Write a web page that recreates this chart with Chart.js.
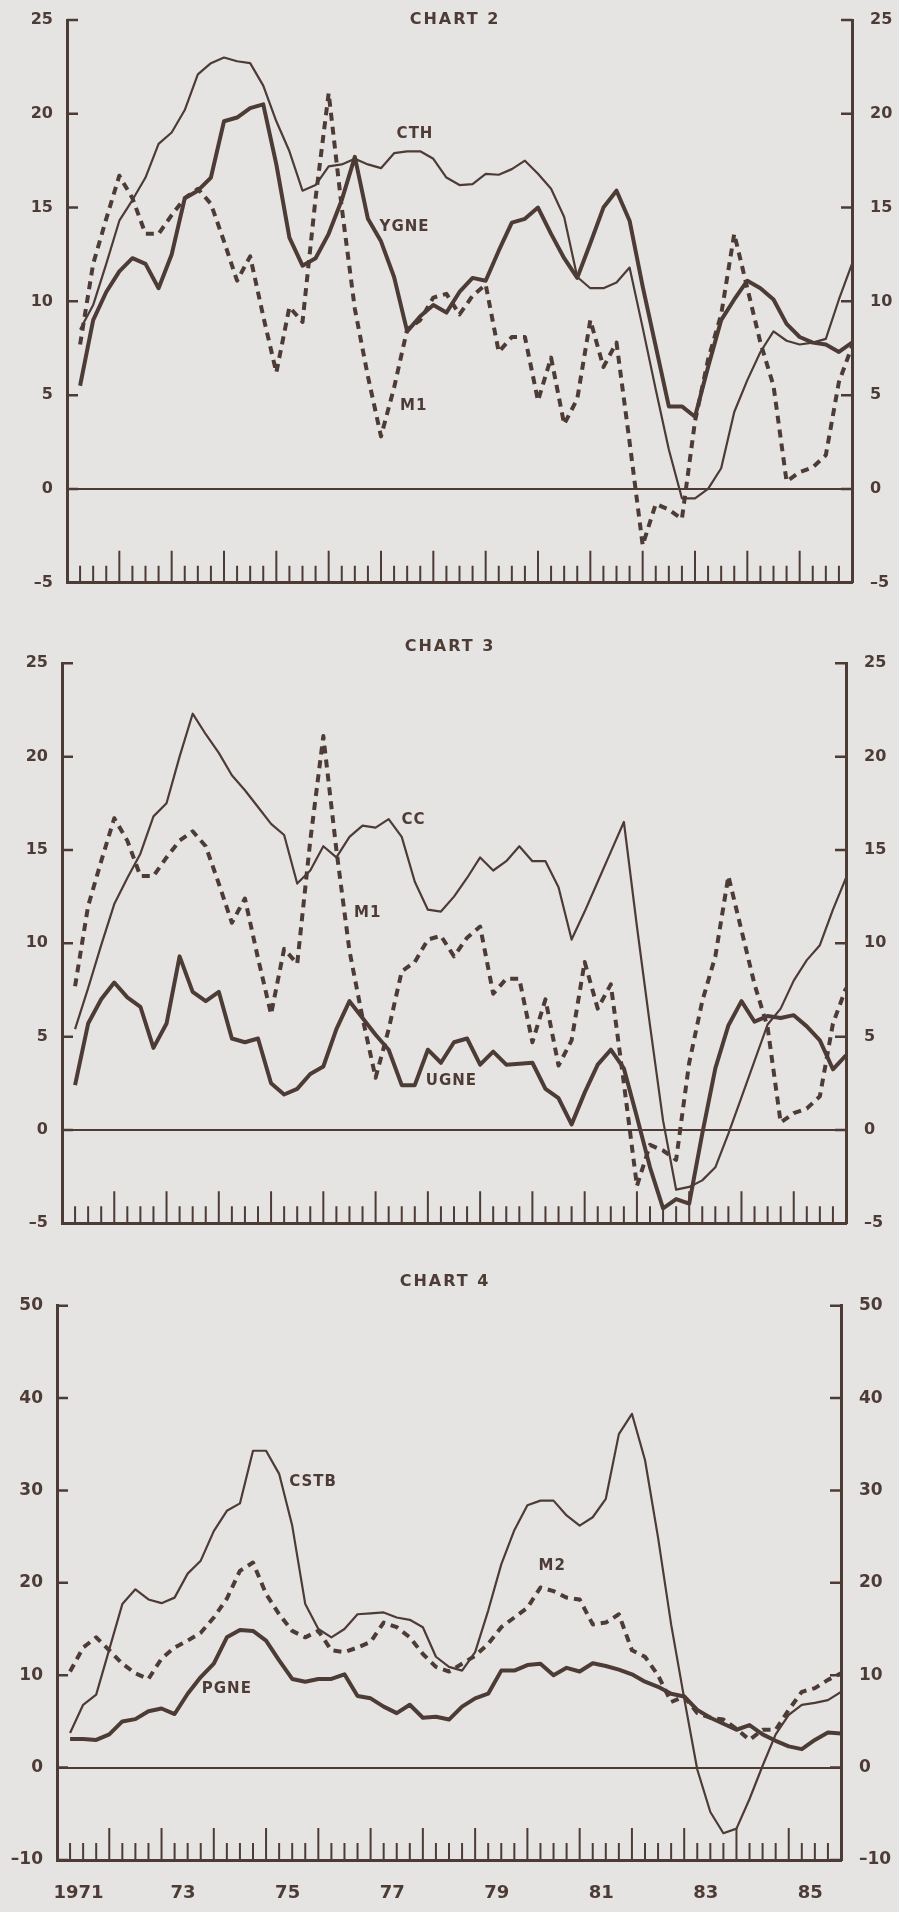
<!DOCTYPE html>
<html>
<head>
<meta charset="utf-8">
<script src="https://cdn.jsdelivr.net/npm/chart.js@4.4.1/dist/chart.umd.min.js"></script>
<style>
  html, body { margin: 0; padding: 0; background: #e6e4e2; }
  body { width: 899px; height: 1912px; position: relative; overflow: hidden; }
  .panel { position: absolute; left: 0; width: 899px; }
  canvas { display: block; }
</style>
</head>
<body>
<div class="panel" style="top:0px"><canvas id="chart2" width="899" height="620"></canvas></div>
<div class="panel" style="top:620px"><canvas id="chart3" width="899" height="620"></canvas></div>
<div class="panel" style="top:1240px"><canvas id="chart4" width="899" height="672"></canvas></div>
<script>
// quarterly growth rates, 1971Q1 .. 1985Q4 (60 quarters)
const M1 = [7.7, 12.0, 14.4, 16.7, 15.5, 13.6, 13.6, 14.6, 15.5, 16.0,
  15.2, 13.2, 11.1, 12.4, 9.2, 6.2, 9.7, 8.9, 15.5, 21.1,
  15.0, 9.6, 6.0, 2.8, 5.4, 8.5, 9.0, 10.2, 10.4, 9.3,
  10.3, 10.9, 7.3, 8.1, 8.1, 4.7, 7.0, 3.45, 4.8, 9.0,
  6.5, 7.8, 2.5, -3.0, -0.8, -1.1, -1.6, 3.6, 6.9, 9.3,
  13.6, 10.7, 7.8, 5.5, 0.4, 0.9, 1.15, 1.8, 5.7, 7.6];
const CTH = [8.5, 9.8, 12.0, 14.3, 15.4, 16.6, 18.4, 19.0, 20.2, 22.1,
  22.7, 23.0, 22.8, 22.7, 21.5, 19.6, 18.0, 15.9, 16.2, 17.2,
  17.3, 17.6, 17.3, 17.1, 17.9, 18.0, 18.0, 17.6, 16.6, 16.2,
  16.25, 16.8, 16.75, 17.05, 17.5, 16.8, 16.0, 14.5, 11.3, 10.7,
  10.7, 11.0, 11.8, 8.6, 5.3, 2.1, -0.5, -0.5, 0.0, 1.1,
  4.1, 5.8, 7.3, 8.4, 7.9, 7.7, 7.8, 8.0, 10.1, 12.0];
const YGNE = [5.5, 9.0, 10.5, 11.6, 12.3, 12.0, 10.7, 12.5, 15.5, 15.9,
  16.6, 19.6, 19.8, 20.3, 20.5, 17.3, 13.4, 11.9, 12.3, 13.6,
  15.4, 17.7, 14.4, 13.2, 11.3, 8.4, 9.2, 9.8, 9.4, 10.5,
  11.25, 11.1, 12.7, 14.2, 14.4, 15.0, 13.6, 12.3, 11.25, 13.1,
  15.0, 15.9, 14.3, 10.8, 7.6, 4.4, 4.4, 3.85, 6.5, 9.0,
  10.1, 11.1, 10.7, 10.1, 8.8, 8.1, 7.8, 7.7, 7.3, 7.8];
const CC = [5.4, 7.6, 9.9, 12.1, 13.5, 14.8, 16.8, 17.5, 20.0, 22.3,
  21.2, 20.2, 19.0, 18.2, 17.3, 16.4, 15.8, 13.2, 13.9, 15.2,
  14.6, 15.7, 16.3, 16.2, 16.65, 15.7, 13.3, 11.8, 11.7, 12.5,
  13.5, 14.6, 13.9, 14.4, 15.2, 14.4, 14.4, 13.0, 10.2, 11.7,
  13.3, 14.9, 16.5, 10.9, 5.6, 0.5, -3.2, -3.05, -2.7, -2.0,
  -0.2, 1.75, 3.7, 5.65, 6.5, 8.0, 9.1, 9.9, 11.8, 13.5];
const UGNE = [2.4, 5.7, 7.0, 7.9, 7.1, 6.6, 4.4, 5.7, 9.3, 7.4,
  6.9, 7.4, 4.9, 4.7, 4.9, 2.5, 1.9, 2.2, 3.0, 3.4,
  5.4, 6.9, 6.0, 5.1, 4.3, 2.4, 2.4, 4.3, 3.6, 4.7,
  4.9, 3.5, 4.2, 3.5, 3.55, 3.6, 2.2, 1.7, 0.3, 2.0,
  3.5, 4.3, 3.3, 0.7, -2.0, -4.2, -3.7, -3.95, -0.2, 3.3,
  5.6, 6.9, 5.8, 6.1, 6.0, 6.15, 5.55, 4.8, 3.25, 4.0];
const CSTB = [3.75, 6.8, 7.9, 12.8, 17.7, 19.3, 18.2, 17.8, 18.4, 21.0,
  22.4, 25.6, 27.8, 28.6, 34.3, 34.3, 31.8, 26.2, 17.7, 15.0,
  14.1, 15.0, 16.6, 16.7, 16.8, 16.25, 16.0, 15.2, 12.0, 10.9,
  10.5, 12.5, 17.0, 22.0, 25.7, 28.4, 28.9, 28.9, 27.3, 26.2,
  27.1, 29.1, 36.1, 38.3, 33.3, 24.9, 15.5, 7.5, -0.2, -4.8,
  -7.1, -6.6, -3.4, 0.2, 3.6, 5.7, 6.8, 7.0, 7.3, 8.2];
const M2 = [10.4, 13.0, 14.1, 12.7, 11.25, 10.2, 9.6, 11.8, 13.0, 13.75,
  14.6, 16.25, 18.3, 21.3, 22.2, 18.8, 16.6, 14.8, 14.1, 14.8,
  12.7, 12.5, 13.0, 13.6, 15.7, 15.2, 14.1, 12.3, 10.9, 10.4,
  11.25, 12.1, 13.4, 15.2, 16.25, 17.3, 19.5, 19.1, 18.4, 18.2,
  15.5, 15.7, 16.6, 12.7, 12.0, 10.0, 7.1, 7.7, 5.9, 5.4,
  5.2, 4.2, 3.0, 4.1, 4.1, 6.25, 8.2, 8.6, 9.5, 10.2];
const PGNE = [3.1, 3.1, 3.0, 3.6, 5.0, 5.25, 6.1, 6.4, 5.8, 8.0,
  9.8, 11.25, 14.1, 14.9, 14.8, 13.75, 11.6, 9.6, 9.3, 9.6,
  9.6, 10.1, 7.75, 7.5, 6.6, 5.9, 6.8, 5.4, 5.5, 5.2,
  6.6, 7.5, 8.0, 10.5, 10.5, 11.1, 11.25, 10.0, 10.8, 10.4,
  11.3, 11.0, 10.6, 10.1, 9.3, 8.75, 8.0, 7.7, 6.25, 5.4,
  4.75, 4.1, 4.6, 3.6, 2.9, 2.3, 2.0, 3.0, 3.8, 3.7];

const xYearLabels = ['1971', '73', '75', '77', '79', '81', '83', '85'];
const yRangeSmall = [-5, 25];
const yRangeLarge = [-10, 50];

const INK = '#4d3b36';
const FONT = '"DejaVu Sans", sans-serif';
const QUARTERS = 60;

function pts(arr) {
  return arr.map((v, k) => ({ x: k + 1, y: v }));
}

// '73' -> middle of 1973 on the quarter axis
function yearCenter(label) {
  const yr = label.length === 4 ? +label : 1900 + +label;
  return (yr - 1971) * 4 + 2 - 0.35;
}

const marks = {
  id: 'marks',
  beforeDatasetsDraw(chart, args, o) {
    const { ctx, chartArea: a, scales } = chart;
    ctx.save();
    ctx.strokeStyle = INK;
    ctx.lineWidth = 2.5;
    ctx.beginPath();
    scales.y.ticks.forEach(t => {
      const py = scales.y.getPixelForValue(t.value);
      ctx.moveTo(a.left, py); ctx.lineTo(a.left + 11, py);
      ctx.moveTo(a.right, py); ctx.lineTo(a.right - 11, py);
    });
    ctx.stroke();
    ctx.lineWidth = 2;
    ctx.beginPath();
    for (let q = 1; q < QUARTERS; q++) {
      const px = scales.x.getPixelForValue(q);
      ctx.moveTo(px, a.bottom);
      ctx.lineTo(px, a.bottom - (q % 4 === 0 ? o.longTick : o.shortTick));
    }
    ctx.stroke();
    ctx.restore();
  },
  afterDatasetsDraw(chart, args, o) {
    const { ctx, scales } = chart;
    ctx.save();
    ctx.fillStyle = INK;
    ctx.textAlign = 'center';
    ctx.textBaseline = 'middle';
    ctx.font = 'bold 16px ' + FONT;
    ctx.letterSpacing = '2px';
    ctx.fillText(o.title, o.titleX, o.titleY);
    ctx.letterSpacing = '1px';
    ctx.font = 'bold 15px ' + FONT;
    o.labels.forEach(l => {
      ctx.fillText(l.text, scales.x.getPixelForValue(l.q), scales.y.getPixelForValue(l.v));
    });
    ctx.restore();
  }
};

function noPad(s) {
  s.paddingTop = 0; s.paddingBottom = 0;
  s.paddingLeft = 0; s.paddingRight = 0;
}

function makeChart(id, cfg) {
  const canvas = document.getElementById(id);
  const H = canvas.height;
  const tickFont = { family: FONT, weight: 'bold', size: cfg.tickSize };
  const yBase = {
    type: 'linear',
    min: cfg.yRange[0],
    max: cfg.yRange[1],
    border: { display: true, color: INK, width: 3 },
    ticks: {
      stepSize: cfg.step, color: INK, font: tickFont,
      callback: v => (v < 0 ? '\u2013' + Math.abs(v) : String(v))
    }
  };
  return new Chart(canvas, {
    type: 'line',
    data: {
      datasets: cfg.series.map(s => ({
        label: s.name,
        data: pts(s.values),
        borderColor: INK,
        borderWidth: s.width,
        borderDash: s.dash || [],
        borderJoinStyle: 'round',
        pointRadius: 0,
        tension: 0,
        fill: false
      }))
    },
    options: {
      responsive: false,
      animation: false,
      layout: { padding: { top: cfg.plotTop, bottom: H - cfg.plotBottom - cfg.xAxisH, left: 0, right: 0 } },
      plugins: {
        legend: { display: false },
        tooltip: { enabled: false },
        marks: {
          title: cfg.title, titleX: cfg.titleX, titleY: cfg.titleY,
          labels: cfg.labels, shortTick: 17, longTick: 32
        }
      },
      scales: {
        x: {
          type: 'linear',
          min: 0,
          max: QUARTERS,
          grid: { display: false },
          border: { display: true, color: INK, width: 3 },
          afterFit: s => { s.height = cfg.xAxisH; noPad(s); },
          afterBuildTicks: s => { s.ticks = xYearLabels.map(l => ({ value: yearCenter(l) })); },
          ticks: {
            display: cfg.xAxisH > 0,
            autoSkip: false,
            maxRotation: 0,
            padding: 15,
            color: INK,
            font: { family: FONT, weight: 'bold', size: 18 },
            callback: (v, i) => xYearLabels[i]
          }
        },
        y: Object.assign({}, yBase, {
          position: 'left',
          afterFit: s => { s.width = cfg.left; noPad(s); },
          grid: {
            drawTicks: false,
            lineWidth: 2,
            color: c => (c.tick && c.tick.value === 0 ? INK : 'rgba(0,0,0,0)')
          },
          ticks: Object.assign({}, yBase.ticks, { padding: 14 })
        }),
        y2: Object.assign({}, yBase, {
          position: 'right',
          afterFit: s => { s.width = 899 - cfg.right; noPad(s); },
          grid: { display: false, drawTicks: false },
          ticks: Object.assign({}, yBase.ticks, { padding: 18 })
        })
      }
    },
    plugins: [marks]
  });
}

const thin = 2.2, thick = 4, dashed = [8, 6];

makeChart('chart2', {
  title: 'CHART 2', titleX: 455, titleY: 20,
  left: 67, right: 852, plotTop: 20, plotBottom: 582.7, xAxisH: 0,
  yRange: yRangeSmall, step: 5, tickSize: 16,
  series: [
    { name: 'CTH', values: CTH, width: thin },
    { name: 'YGNE', values: YGNE, width: thick },
    { name: 'M1', values: M1, width: thick, dash: dashed }
  ],
  labels: [
    { text: 'CTH', q: 26.6, v: 18.9 },
    { text: 'YGNE', q: 25.8, v: 13.96 },
    { text: 'M1', q: 26.5, v: 4.4 }
  ]
});

makeChart('chart3', {
  title: 'CHART 3', titleX: 450, titleY: 27,
  left: 62, right: 846, plotTop: 43.3, plotBottom: 603.3, xAxisH: 0,
  yRange: yRangeSmall, step: 5, tickSize: 16,
  series: [
    { name: 'CC', values: CC, width: thin },
    { name: 'UGNE', values: UGNE, width: thick },
    { name: 'M1', values: M1, width: thick, dash: dashed }
  ],
  labels: [
    { text: 'CC', q: 26.9, v: 16.6 },
    { text: 'M1', q: 23.4, v: 11.6 },
    { text: 'UGNE', q: 29.8, v: 2.6 }
  ]
});

makeChart('chart4', {
  title: 'CHART 4', titleX: 445, titleY: 42,
  left: 57, right: 841, plotTop: 65.7, plotBottom: 620, xAxisH: 52,
  yRange: yRangeLarge, step: 10, tickSize: 17,
  series: [
    { name: 'CSTB', values: CSTB, width: thin },
    { name: 'PGNE', values: PGNE, width: thick },
    { name: 'M2', values: M2, width: thick, dash: dashed }
  ],
  labels: [
    { text: 'CSTB', q: 19.6, v: 30.9 },
    { text: 'M2', q: 37.9, v: 21.8 },
    { text: 'PGNE', q: 13.0, v: 8.5 }
  ]
});
</script>
</body>
</html>
